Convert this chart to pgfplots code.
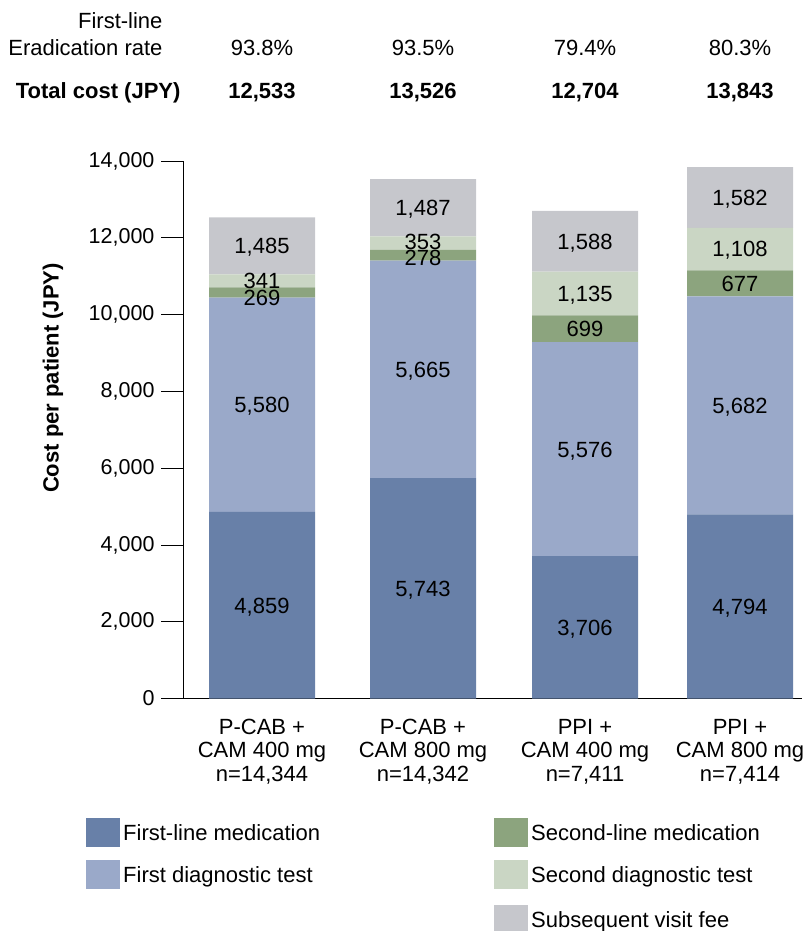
\documentclass[border=0pt]{standalone}
\usepackage{fontspec}
\setmainfont{Liberation Sans}
\usepackage{pgfplots}
\pgfplotsset{compat=1.18}
\usepackage{pgfplotstable}

\definecolor{cFM}{RGB}{104,128,168}
\definecolor{cFD}{RGB}{154,169,201}
\definecolor{cSM}{RGB}{140,164,126}
\definecolor{cSD}{RGB}{202,214,196}
\definecolor{cSV}{RGB}{198,199,204}

\pgfplotstableread{
x FM FD SM SD SV
262 4859 5580 269 341 1485
423 5743 5665 278 353 1487
585 3706 5576 699 1135 1588
740 4794 5682 677 1108 1582
}\costs

\pgfplotstableread{
x y lab
262 2429.5 {4,859}
262 7649 {5,580}
262 10440 {269}
262 10890 {341}
262 11791.5 {1,485}
423 2871.5 {5,743}
423 8575.5 {5,665}
423 11495 {278}
423 11895 {353}
423 12782.5 {1,487}
585 1853 {3,706}
585 6494 {5,576}
585 9631.5 {699}
585 10548.5 {1,135}
585 11910 {1,588}
740 2397 {4,794}
740 7635 {5,682}
740 10814.5 {677}
740 11707 {1,108}
740 13052 {1,582}
}\labels

\newcommand{\txt}{\fontsize{22}{24}\selectfont}

\begin{document}
\begin{tikzpicture}
\path[use as bounding box] (0,0) rectangle (804pt,-931pt);

\begin{axis}[
  at={(183pt,-698.5pt)}, anchor=south west,
  scale only axis, width=619pt, height=537.5pt,
  xmin=183, xmax=802, ymin=0, ymax=14000,
  ybar stacked, bar width=106,
  axis x line*=bottom, axis y line*=left,
  axis line style={black, line width=0.8pt},
  xtick={262,423,585,740},
  xticklabels={{P-CAB +\\CAM 400 mg\\n=14,344},{P-CAB +\\CAM 800 mg\\n=14,342},{PPI +\\CAM 400 mg\\n=7,411},{PPI +\\CAM 800 mg\\n=7,414}},
  x tick style={draw=none},
  xticklabel style={align=center, font=\fontsize{22}{23.5}\selectfont, yshift=5pt},
  ytick={0,2000,4000,6000,8000,10000,12000,14000},
  y tick style={black, line width=0.8pt},
  tick align=outside, major tick length=22pt,
  yticklabel style={font=\fontsize{21.5}{24}\selectfont, xshift=-3pt},
  /pgf/number format/1000 sep={,},
  /pgf/number format/assume math mode=true,
  scaled y ticks=false,
  clip=false,
]
\addplot[fill=cFM, draw=none] table[x=x,y=FM]{\costs};
\addplot[fill=cFD, draw=none] table[x=x,y=FD]{\costs};
\addplot[fill=cSM, draw=none] table[x=x,y=SM]{\costs};
\addplot[fill=cSD, draw=none] table[x=x,y=SD]{\costs};
\addplot[fill=cSV, draw=none] table[x=x,y=SV]{\costs};
\end{axis}

\begin{axis}[
  at={(183pt,-698.5pt)}, anchor=south west,
  scale only axis, width=619pt, height=537.5pt,
  xmin=183, xmax=802, ymin=0, ymax=14000,
  axis lines=none, clip=false,
]
\addplot[only marks, mark=none, nodes near coords, point meta=explicit symbolic,
  nodes near coords style={font=\txt, anchor=base, yshift=-7.9pt, inner sep=0pt}]
  table[x=x,y=y,meta=lab]{\labels};
\end{axis}

% header
\node[anchor=base east, font=\txt] at (166pt,-29pt) {First-line};
\node[anchor=base east, font=\txt] at (166pt,-56pt) {Eradication rate};
\node[anchor=base east, font=\txt\bfseries] at (184pt,-99pt) {Total cost (JPY)};
\foreach \xx/\pp/\tt in {262/93.8/{12,533},423/93.5/{13,526},585/79.4/{12,704},740/80.3/{13,843}}{
  \node[anchor=base, font=\txt] at (\xx pt,-56pt) {\pp\%};
  \node[anchor=base, font=\txt\bfseries] at (\xx pt,-99pt) {\tt};
}

% y label
\node[rotate=90, font=\txt\bfseries] at (53pt,-378pt) {Cost per patient (JPY)};

% legend
\fill[cFM] (86pt,-818pt) rectangle (120pt,-847pt);
\node[anchor=base west, font=\txt, inner sep=0pt] at (123pt,-840pt) {First-line medication};
\fill[cFD] (86pt,-860pt) rectangle (120pt,-889pt);
\node[anchor=base west, font=\txt, inner sep=0pt] at (123pt,-882pt) {First diagnostic test};
\fill[cSM] (494pt,-818pt) rectangle (528pt,-847pt);
\node[anchor=base west, font=\txt, inner sep=0pt] at (531pt,-840pt) {Second-line medication};
\fill[cSD] (494pt,-860pt) rectangle (528pt,-889pt);
\node[anchor=base west, font=\txt, inner sep=0pt] at (531pt,-882pt) {Second diagnostic test};
\fill[cSV] (494pt,-905pt) rectangle (528pt,-934pt);
\node[anchor=base west, font=\txt, inner sep=0pt] at (531pt,-927pt) {Subsequent visit fee};
\end{tikzpicture}
\end{document}
